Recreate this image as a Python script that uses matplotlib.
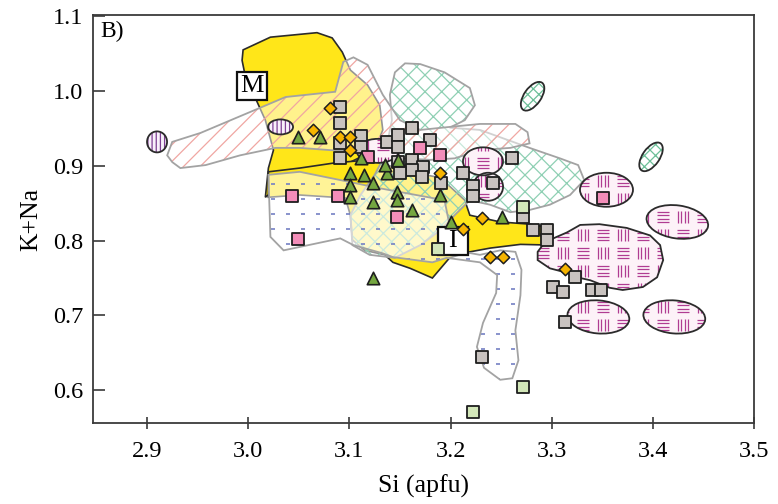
import numpy as np
import matplotlib
matplotlib.use('Agg')
import matplotlib.pyplot as plt
from matplotlib.patches import Polygon, Ellipse, Rectangle
from matplotlib.collections import LineCollection
from matplotlib.transforms import ScaledTranslation

plt.rcParams['font.family'] = ['Liberation Serif', 'DejaVu Serif']
plt.rcParams['hatch.linewidth'] = 0.9

# ---------------- data ----------------
# field M (bright yellow)
M_x = [2.995, 3.022, 3.068, 3.083, 3.093, 3.101, 3.118, 3.130, 3.133, 3.125, 3.101, 3.071,
       3.051, 3.032, 3.017, 3.020, 3.025, 3.017, 3.007, 2.997, 2.994]
M_y = [1.055, 1.072, 1.078, 1.071, 1.052, 1.028, 1.008, 0.981, 0.948, 0.921, 0.905, 0.894,
       0.890, 0.874, 0.858, 0.897, 0.921, 0.961, 0.991, 1.021, 1.041]
# field I (yellow)
I_x = [3.020, 3.051, 3.086, 3.120, 3.160, 3.190, 3.214, 3.219, 3.249, 3.278, 3.298, 3.300,
       3.269, 3.239, 3.219, 3.199, 3.182, 3.160, 3.143, 3.135, 3.115, 3.103, 3.101, 3.096,
       3.051, 3.020]
I_y = [0.892, 0.897, 0.904, 0.908, 0.892, 0.884, 0.854, 0.834, 0.825, 0.822, 0.817, 0.794,
       0.795, 0.790, 0.785, 0.777, 0.750, 0.763, 0.771, 0.781, 0.787, 0.801, 0.834, 0.857,
       0.861, 0.858]
# pink diagonal-hatched band
PB_x = [2.920, 2.925, 2.953, 3.002, 3.037, 3.086, 3.094, 3.104, 3.118, 3.133, 3.150, 3.170,
        3.199, 3.229, 3.264, 3.276, 3.278, 3.259, 3.229, 3.204, 3.180, 3.150, 3.120, 3.081,
        3.051, 3.027, 2.992, 2.958, 2.933, 2.925]
PB_y = [0.914, 0.932, 0.944, 0.972, 0.992, 0.999, 1.039, 1.045, 1.035, 0.995, 0.961, 0.948,
        0.952, 0.956, 0.956, 0.945, 0.930, 0.924, 0.921, 0.910, 0.908, 0.910, 0.918, 0.921,
        0.924, 0.924, 0.914, 0.901, 0.897, 0.905]
# green cross-hatched field
GX_x = [3.145, 3.155, 3.170, 3.194, 3.219, 3.224, 3.214, 3.199, 3.229, 3.278, 3.308, 3.326,
        3.332, 3.318, 3.298, 3.278, 3.259, 3.239, 3.219, 3.204, 3.190, 3.170, 3.145, 3.120,
        3.103, 3.101, 3.111, 3.125, 3.135, 3.142, 3.140]
GX_y = [1.025, 1.037, 1.036, 1.025, 1.004, 0.981, 0.961, 0.951, 0.948, 0.924, 0.910, 0.901,
        0.881, 0.861, 0.848, 0.841, 0.838, 0.848, 0.854, 0.834, 0.814, 0.794, 0.777, 0.781,
        0.794, 0.834, 0.861, 0.888, 0.914, 0.961, 0.995]
# dotted field
DT_x = [3.020, 3.051, 3.091, 3.130, 3.170, 3.194, 3.204, 3.229, 3.249, 3.264, 3.270, 3.269,
        3.264, 3.267, 3.261, 3.249, 3.233, 3.226, 3.232, 3.245, 3.246, 3.229, 3.196, 3.182,
        3.143, 3.133, 3.104, 3.091, 3.035, 3.022]
DT_y = [0.888, 0.892, 0.881, 0.870, 0.860, 0.854, 0.787, 0.781, 0.787, 0.785, 0.761, 0.727,
        0.680, 0.640, 0.616, 0.614, 0.630, 0.658, 0.690, 0.730, 0.754, 0.771, 0.777, 0.771,
        0.778, 0.783, 0.794, 0.803, 0.787, 0.805]
# large magenta basket-weave field
BB_x = [3.298, 3.315, 3.328, 3.347, 3.374, 3.397, 3.407, 3.410, 3.404, 3.390, 3.370, 3.357,
        3.338, 3.325, 3.315, 3.298, 3.286, 3.286, 3.291]
BB_y = [0.801, 0.811, 0.821, 0.822, 0.817, 0.807, 0.794, 0.774, 0.751, 0.738, 0.734, 0.737,
        0.747, 0.751, 0.757, 0.763, 0.774, 0.785, 0.794]
# small magenta basket-weave fields (centres)
WB_x = [3.128, 3.232, 3.237, 3.354, 3.424, 3.346, 3.421]
WB_y = [0.920, 0.906, 0.872, 0.868, 0.825, 0.698, 0.698]
# small purple vertically-hatched fields (centres)
VB_x = [2.910, 3.032]
VB_y = [0.932, 0.952]
# small green cross-hatched fields (centres)
GE_x = [3.281, 3.398]
GE_y = [0.993, 0.912]

# samples
gray_x = [3.091, 3.091, 3.091, 3.091, 3.111, 3.111, 3.137, 3.148, 3.148, 3.162, 3.180, 3.148,
          3.162, 3.173, 3.162, 3.150, 3.172, 3.191, 3.212, 3.222, 3.222, 3.242, 3.261, 3.272,
          3.281, 3.295, 3.295, 3.323, 3.301, 3.311, 3.340, 3.349, 3.313, 3.231]
gray_y = [0.979, 0.957, 0.930, 0.910, 0.940, 0.925, 0.932, 0.941, 0.925, 0.951, 0.934, 0.905,
          0.908, 0.898, 0.894, 0.890, 0.885, 0.877, 0.890, 0.873, 0.860, 0.877, 0.910, 0.832,
          0.814, 0.814, 0.801, 0.751, 0.738, 0.731, 0.734, 0.734, 0.691, 0.644]
pink_x = [3.118, 3.170, 3.190, 3.043, 3.089, 3.147, 3.049, 3.351]
pink_y = [0.912, 0.924, 0.914, 0.860, 0.860, 0.832, 0.802, 0.857]
tri_x = [3.049, 3.071, 3.111, 3.101, 3.114, 3.101, 3.123, 3.137, 3.135, 3.148, 3.147, 3.147,
         3.101, 3.123, 3.162, 3.190, 3.200, 3.251, 3.123]
tri_y = [0.938, 0.938, 0.910, 0.890, 0.888, 0.874, 0.877, 0.890, 0.901, 0.908, 0.865, 0.854,
         0.858, 0.852, 0.841, 0.861, 0.825, 0.832, 0.750]
dia_x = [3.081, 3.064, 3.091, 3.101, 3.101, 3.190, 3.231, 3.212, 3.239, 3.252, 3.313]
dia_y = [0.977, 0.948, 0.938, 0.938, 0.921, 0.890, 0.830, 0.816, 0.778, 0.778, 0.762]
pg_x = [3.188, 3.272, 3.272, 3.222]
pg_y = [0.789, 0.845, 0.604, 0.571]

field_labels = ['M', 'I']
label_x = [3.004, 3.202]
label_y = [1.0067, 0.800]

x_ticks = [2.9, 3.0, 3.1, 3.2, 3.3, 3.4, 3.5]
y_ticks = [0.6, 0.7, 0.8, 0.9, 1.0, 1.1]

# ---------------- figure ----------------
fig = plt.figure(figsize=(7.78, 5.04), dpi=100)
ax = fig.add_axes([0.1199, 0.1601, 0.8496, 0.8101])
ax.set_xlim(2.847, 3.5)
ax.set_ylim(0.5558, 1.1016)

EDGE_GRAY = '#a3a3a3'
DARK = '#2b2b2b'


def add_poly(xs, ys, **kw):
    p = Polygon(np.column_stack([xs, ys]), closed=True, **kw)
    ax.add_patch(p)
    return p


def disp_tr(x, y):
    return fig.dpi_scale_trans + ScaledTranslation(x, y, ax.transData)


# axes area in inches for patterns
X0, X1 = 0.93, 7.55
Y0, Y1 = 0.80, 4.90


def weave_segments(cw=0.20, ch=0.18):
    segs_v, segs_h = [], []
    nx = int((X1 - X0) / cw) + 1
    ny = int((Y1 - Y0) / ch) + 1
    for i in range(nx):
        for j in range(ny):
            cx0 = X0 + i * cw
            cy0 = Y0 + j * ch
            if (i + j) % 2 == 0:
                for f in (0.26, 0.42, 0.58, 0.74):
                    segs_v.append([(cx0 + f * cw, cy0 + 0.14 * ch), (cx0 + f * cw, cy0 + 0.86 * ch)])
            else:
                for f in (0.24, 0.41, 0.59, 0.76):
                    segs_h.append([(cx0 + 0.18 * cw, cy0 + f * ch), (cx0 + 0.82 * cw, cy0 + f * ch)])
    return segs_v + segs_h


def dash_segments(sx=0.15, sy=0.15, L=0.045):
    segs = []
    for xx in np.arange(X0, X1, sx):
        for yy in np.arange(Y0, Y1, sy):
            segs.append([(xx - L / 2, yy), (xx + L / 2, yy)])
    return segs


WEAVE = weave_segments()
DASHES = dash_segments()

# yellow fields
add_poly(M_x, M_y, facecolor='#FFE619', edgecolor=DARK, lw=1.2, zorder=1)
add_poly(I_x, I_y, facecolor='#FFE619', edgecolor=DARK, lw=1.2, zorder=1.1)

# green cross-hatched field
add_poly(GX_x, GX_y, facecolor=(1, 1, 1, 0.5), edgecolor='none', lw=0, zorder=2)
add_poly(GX_x, GX_y, fill=False, hatch='xx', edgecolor='#8fd0b4', lw=0, zorder=2.1)
add_poly(GX_x, GX_y, fill=False, edgecolor=EDGE_GRAY, lw=1.3, zorder=2.2)

# pink hatched band
add_poly(PB_x, PB_y, facecolor=(1, 1, 1, 0.5), edgecolor='none', lw=0, zorder=3)
add_poly(PB_x, PB_y, fill=False, hatch='//', edgecolor='#f0a6a2', lw=0, zorder=3.1)
add_poly(PB_x, PB_y, fill=False, edgecolor=EDGE_GRAY, lw=1.3, zorder=3.2)

# dotted field
dt = add_poly(DT_x, DT_y, facecolor=(1, 1, 1, 0.55), edgecolor='none', lw=0, zorder=4)
lc = LineCollection(DASHES, colors='#7480c4', linewidths=1.2, transform=fig.dpi_scale_trans, zorder=4.1)
ax.add_collection(lc)
lc.set_clip_path(dt)
add_poly(DT_x, DT_y, fill=False, edgecolor=EDGE_GRAY, lw=1.3, zorder=4.2)

WEAVE_COL = '#b03c92'
BLOB_FC = '#fdf2f8'


def weave_fill(patch, z):
    l = LineCollection(WEAVE, colors=WEAVE_COL, linewidths=0.9, transform=fig.dpi_scale_trans, zorder=z)
    ax.add_collection(l)
    l.set_clip_path(patch)


# big basket-weave field
bb = add_poly(BB_x, BB_y, facecolor=BLOB_FC, edgecolor='none', lw=0, zorder=5)
weave_fill(bb, 5.1)
add_poly(BB_x, BB_y, fill=False, edgecolor=DARK, lw=1.3, zorder=5.2)

# small basket-weave fields (sizes in px, angle deg)
wb_sizes = [(42, 24, 0), (40, 28, 0), (30, 28, 0), (53, 34, 0), (62, 33, -8), (62, 33, -5), (62, 33, -5)]
for (cx, cy), (w, h, a) in zip(zip(WB_x, WB_y), wb_sizes):
    e = Ellipse((0, 0), w / 100, h / 100, angle=a, transform=disp_tr(cx, cy),
                facecolor=BLOB_FC, edgecolor='none', lw=0, zorder=5)
    ax.add_patch(e)
    weave_fill(e, 5.1)
    ax.add_patch(Ellipse((0, 0), w / 100, h / 100, angle=a, transform=disp_tr(cx, cy),
                         fill=False, edgecolor=DARK, lw=1.3, zorder=5.2))

# small vertically hatched fields
vb_sizes = [(20, 21), (25, 15)]
for (cx, cy), (w, h) in zip(zip(VB_x, VB_y), vb_sizes):
    ax.add_patch(Ellipse((0, 0), w / 100, h / 100, transform=disp_tr(cx, cy),
                         facecolor='#f8f0fa', edgecolor='none', lw=0, zorder=5))
    ax.add_patch(Ellipse((0, 0), w / 100, h / 100, transform=disp_tr(cx, cy),
                         fill=False, hatch='||||', edgecolor='#7d3f92', lw=0, zorder=5.1))
    ax.add_patch(Ellipse((0, 0), w / 100, h / 100, transform=disp_tr(cx, cy),
                         fill=False, edgecolor=DARK, lw=1.3, zorder=5.2))

# small green cross-hatched ellipses
for cx, cy in zip(GE_x, GE_y):
    ax.add_patch(Ellipse((0, 0), 0.33, 0.17, angle=55, transform=disp_tr(cx, cy),
                         facecolor='white', edgecolor='none', lw=0, zorder=5))
    ax.add_patch(Ellipse((0, 0), 0.33, 0.17, angle=55, transform=disp_tr(cx, cy),
                         fill=False, hatch='xxx', edgecolor='#6cbf98', lw=0, zorder=5.1))
    ax.add_patch(Ellipse((0, 0), 0.33, 0.17, angle=55, transform=disp_tr(cx, cy),
                         fill=False, edgecolor=DARK, lw=1.3, zorder=5.2))

# field labels
for t, lx, ly in zip(field_labels, label_x, label_y):
    ax.add_patch(Rectangle((-0.15, -0.14), 0.30, 0.28, transform=disp_tr(lx, ly),
                           facecolor='white', edgecolor='#111111', lw=1.6, zorder=6))
    ax.text(lx, ly, t, ha='center', va='center', fontsize=19, zorder=6.1,
            transform=ax.transData)

# sample markers
EC = '#1e1e1e'
ax.scatter(gray_x, gray_y, s=80, marker='s', c='#c9c3c0', edgecolors=EC, linewidths=1.3, zorder=7)
ax.scatter(pink_x, pink_y, s=80, marker='s', c='#f38db9', edgecolors=EC, linewidths=1.3, zorder=7.1)
ax.scatter(tri_x, tri_y, s=80, marker='^', c='#74a640', edgecolors=EC, linewidths=1.2, zorder=7.2)
ax.scatter(dia_x, dia_y, s=40, marker='D', c='#f6b400', edgecolors=EC, linewidths=1.1, zorder=7.3)
ax.scatter(pg_x, pg_y, s=80, marker='s', c='#d3e7b9', edgecolors=EC, linewidths=1.3, zorder=7.4)

ax.text(0.011, 0.985, 'B)', transform=ax.transAxes, fontsize=17, ha='left', va='top')

# axes styling
for s in ax.spines.values():
    s.set_color('#3a3a3a')
    s.set_linewidth(1.3)
ax.set_xticks(x_ticks)
ax.set_yticks(y_ticks)
ax.set_xticklabels([f'{v:.1f}' for v in x_ticks])
ax.set_yticklabels([f'{v:.1f}' for v in y_ticks])
ax.tick_params(axis='x', direction='inout', length=8.6, width=1.2, pad=8.5, labelsize=17.5,
               color='#3a3a3a', top=False)
ax.tick_params(axis='y', direction='in', length=8.6, width=1.2, pad=7.0, labelsize=17.5,
               color='#3a3a3a', right=False)
ax.set_xlabel('Si (apfu)', fontsize=18.5, labelpad=9)
ax.set_ylabel('K+Na', fontsize=18.5, labelpad=8)

fig.savefig('out.png', dpi=100)
